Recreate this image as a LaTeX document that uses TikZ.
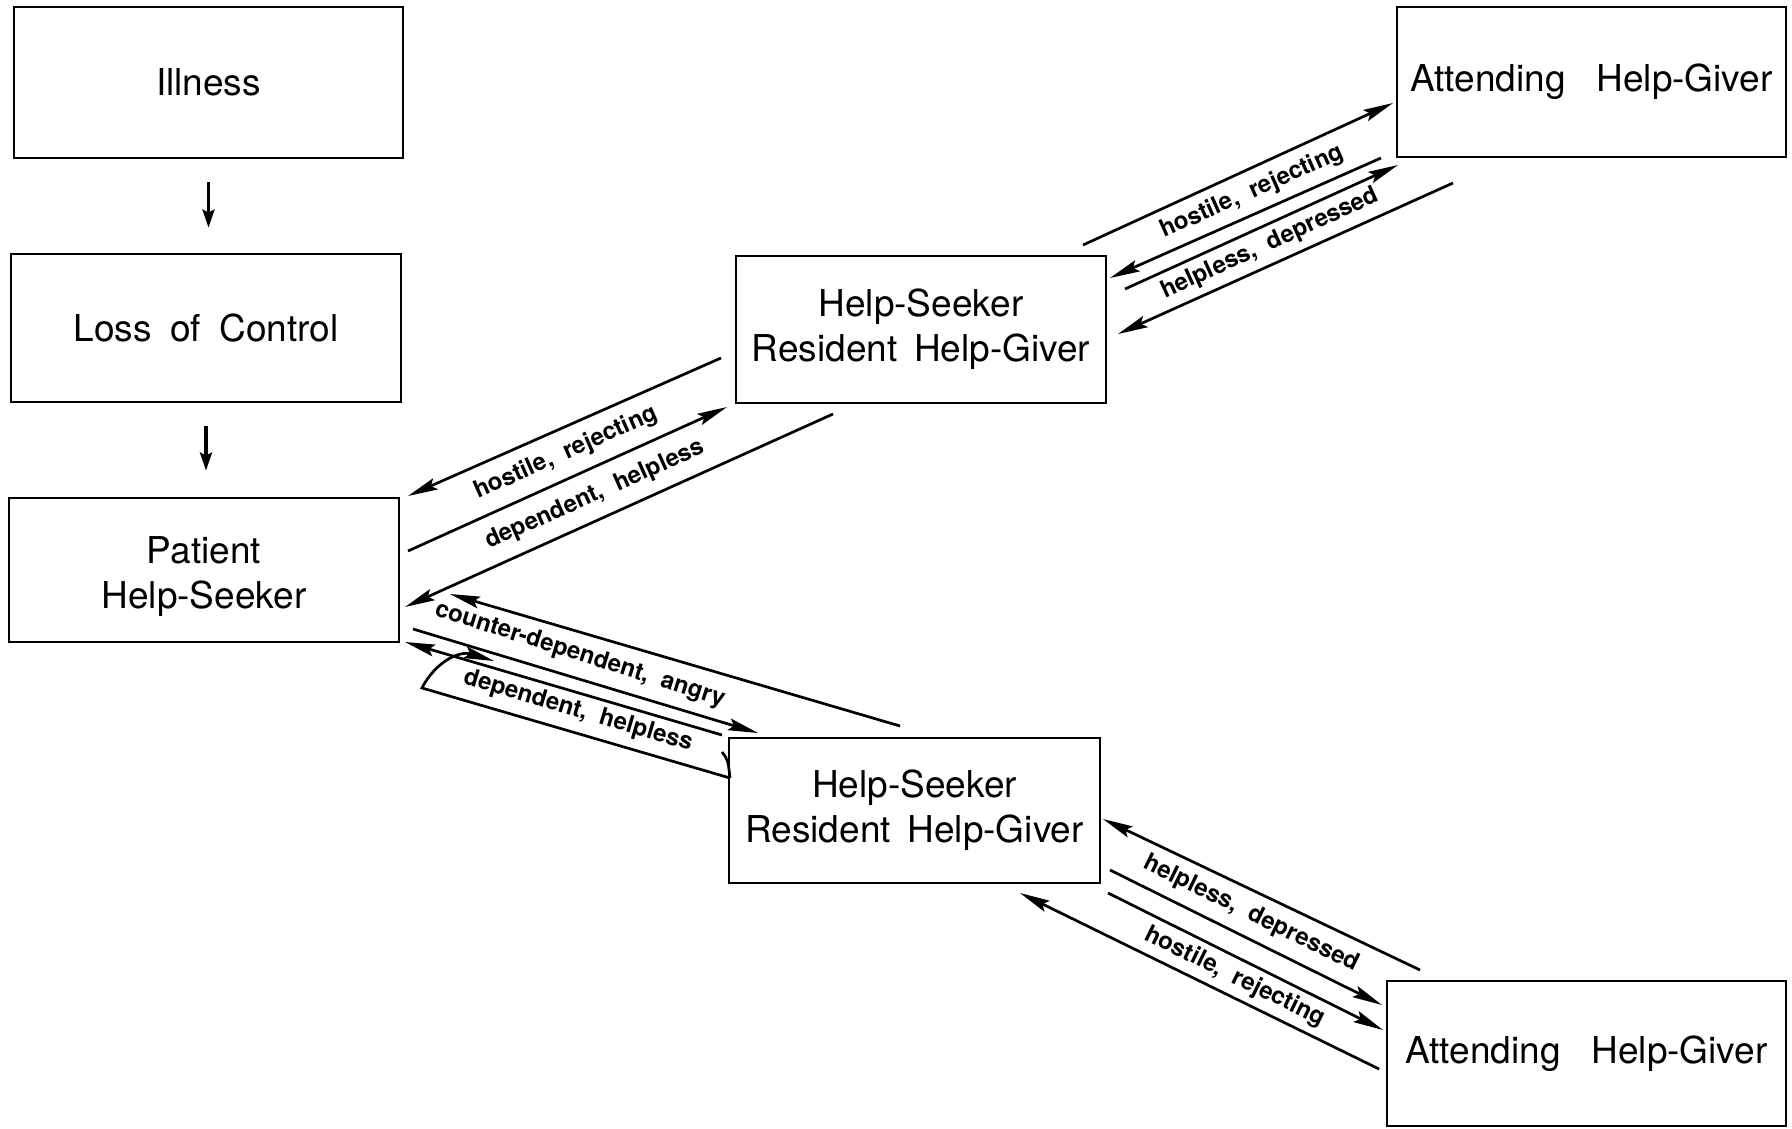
\documentclass[tikz,border=0pt]{standalone}
\usepackage{fontspec}
\setmainfont{TeX Gyre Heros}
\usetikzlibrary{arrows.meta}
\begin{document}
\begin{tikzpicture}[x=1pt,y=-1pt,
  box/.style={draw, line width=2.8pt, inner sep=0pt, font=\fontsize{37}{45}\selectfont, align=center},
  conn/.style={line width=2.7pt, -{Stealth[length=30pt,width=12pt,inset=5pt]}},
  vconn/.style={line width=3.2pt, -{Stealth[length=18pt,width=12pt,inset=3pt]}},
  plain/.style={line width=2.7pt},
  lbl/.style={font=\fontsize{24}{28}\selectfont\bfseries, inner sep=0pt},
]
\useasboundingbox (0,0) rectangle (1792,1129);
% boxes
\node[box, minimum width=389pt, minimum height=151pt] (ill) at (208.5,82.5) {Illness};
\node[box, minimum width=390pt, minimum height=148pt] (loss) at (206,328) {Loss\hspace{0.5em}of\hspace{0.5em}Control};
\node[box, minimum width=390pt, minimum height=144pt] (pat) at (204,570) {\rule{0pt}{40pt}Patient\\Help-Seeker};
\node[box, minimum width=370pt, minimum height=147pt] (hs1) at (921,329.5) {Help-Seeker\\Resident\hspace{0.45em}Help-Giver};
\node[box, minimum width=389pt, minimum height=150pt] (at1) at (1591.5,82) {Attending\ \ \ Help-Giver};
\node[box, minimum width=371pt, minimum height=145pt] (hs2) at (914.5,810.5) {Help-Seeker\\Resident\hspace{0.45em}Help-Giver};
\node[box, minimum width=399pt, minimum height=145pt] (at2) at (1586.5,1053.5) {Attending\ \ \ Help-Giver};

% vertical arrows
\draw[vconn, shorten <=23pt, shorten >=25pt] (ill.south) -- (ill.south |- loss.north);
\draw[vconn, shorten <=23pt, shorten >=26pt] (loss.south) -- (loss.south |- pat.north);

% end points
\coordinate (u1a) at (1083,245); \coordinate (u1b) at (1393,103);
\coordinate (u2a) at (1381,158); \coordinate (u2b) at (1110,278);
\coordinate (u3a) at (1125,289); \coordinate (u3b) at (1398,165);
\coordinate (u4a) at (1453,183); \coordinate (u4b) at (1118,334);

\coordinate (ma) at (721,358);  \coordinate (mb) at (408,496);
\coordinate (mc) at (408,551);  \coordinate (md) at (727,407);
\coordinate (me) at (833,414);  \coordinate (mf) at (405,607);

\coordinate (da) at (900,726);  \coordinate (db) at (450,594);
\coordinate (ea) at (413,629);  \coordinate (eb) at (758,733);
\coordinate (fa) at (722,735);  \coordinate (fb) at (405,642);
\coordinate (ga) at (730,778);  \coordinate (gb) at (422,688);
\coordinate (gc) at (494,661);
\coordinate (ta) at (722,752);

\coordinate (ha) at (1420,970); \coordinate (hb) at (1103,819);
\coordinate (ia) at (1110,870); \coordinate (ib) at (1382,1005);
\coordinate (ja) at (1108,893); \coordinate (jb) at (1383,1030);
\coordinate (ka) at (1379,1069);\coordinate (kb) at (1020,893);

% upper right
\draw[conn] (u1a) -- (u1b);
\draw[conn] (u2a) -- (u2b);
\draw[conn] (u3a) -- (u3b);
\draw[conn] (u4a) -- (u4b);
\node[lbl, rotate=24] (l1) at (1252,192) {hostile,\ \ rejecting};
\node[lbl, rotate=24.5] (l2) at (1270,244) {helpless,\ \ depressed};

% middle left
\draw[conn] (ma) -- (mb);
\draw[conn] (mc) -- (md);
\draw[conn] (me) -- (mf);
\node[lbl, rotate=24] (l3) at (566,453) {hostile,\ \ rejecting};
\node[lbl, rotate=24] (l4) at (595,495) {dependent,\ \ helpless};

% lower left
\draw[conn] (da) -- (db);
\draw[conn] (ea) -- (eb);
\draw[conn] (fa) -- (fb);
\draw[conn] (ga) -- (gb) .. controls (434,664) and (458,650) .. (gc);
\draw[plain] (ta) .. controls (728,760) .. (ga);
\node[lbl, rotate=-17.5] (l5) at (580,655) {counter-dependent,\ \ angry};
\node[lbl, rotate=-16.5] (l6) at (578,711) {dependent,\ \ helpless};

% lower right
\draw[conn] (ha) -- (hb);
\draw[conn] (ia) -- (ib);
\draw[conn] (ja) -- (jb);
\draw[conn] (ka) -- (kb);
\node[lbl, rotate=-26] (l7) at (1251,914) {helpless,\ \ depressed};
\node[lbl, rotate=-26] (l8) at (1235,977) {hostile,\ \ rejecting};
\end{tikzpicture}
\end{document}
